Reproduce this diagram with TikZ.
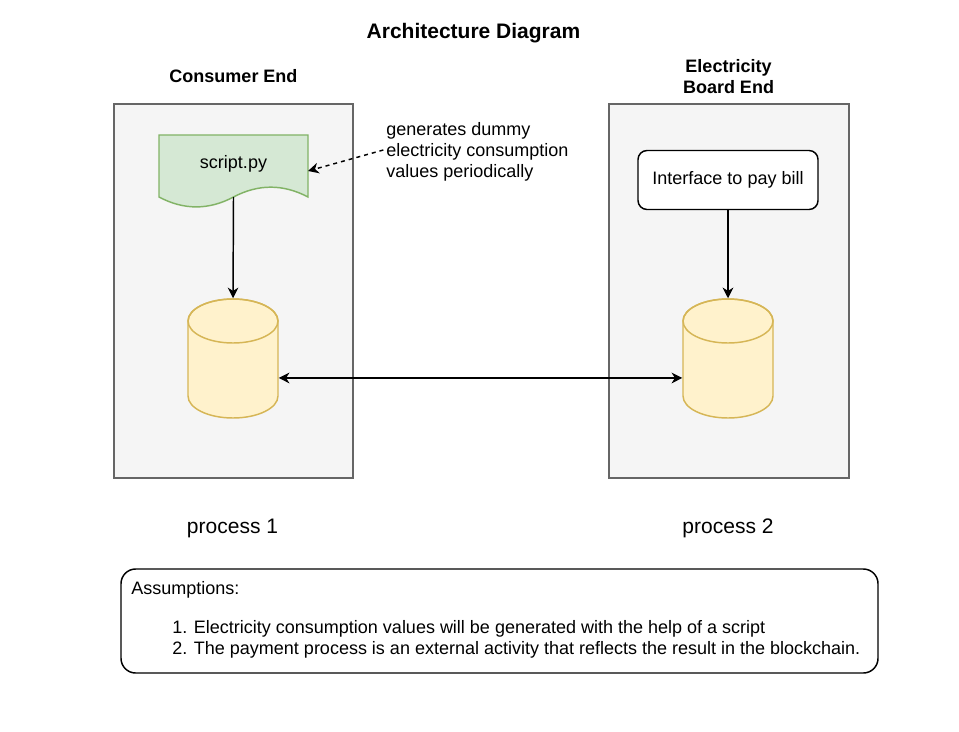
\documentclass[tikz,border=0pt]{standalone}
\usepackage{fontspec}
\setmainfont{Liberation Sans}
\definecolor{panelgray}{HTML}{F5F5F5}
\definecolor{panelline}{HTML}{666666}
\definecolor{docgreen}{HTML}{D5E8D4}
\definecolor{docline}{HTML}{82B366}
\definecolor{dbyellow}{HTML}{FFF2CC}
\definecolor{dbline}{HTML}{D6B656}
\usetikzlibrary{
  shapes.geometric,
  arrows.meta,
  positioning
}

\begin{document}
\begin{tikzpicture}[
  x=0.75pt, y=-0.75pt,
  panel/.style={rectangle, draw=panelline, fill=panelgray, line width=1.1pt, minimum width=179.25pt, minimum height=280.5pt},
  heading/.style={font=\fontsize{13.5}{15.75}\selectfont\bfseries, align=center},
  plain/.style={font=\fontsize{13.5}{15.75}\selectfont, align=left},
  big/.style={font=\fontsize{15.75}{18}\selectfont},
  db/.style={rectangle, minimum width=67.5pt, minimum height=89.25pt, inner sep=0pt, outer sep=0.55pt},
  dbshape/.style={draw=dbline, fill=dbyellow, line width=1.1pt},
  uibox/.style={rectangle, draw=black, fill=white, rounded corners=6.75pt, line width=1.1pt, minimum width=135pt, minimum height=44.25pt, font=\fontsize{13.5}{15.75}\selectfont},
  edge/.style={-{Stealth[length=8pt, width=8pt, inset=2.5pt]}, line width=1.1pt, black},
  biedge/.style={{Stealth[length=8pt, width=8pt, inset=2.5pt]}-{Stealth[length=8pt, width=8pt, inset=2.5pt]}, line width=1.1pt, black},
  noteedge/.style={-{Stealth[length=8pt, width=8pt, inset=2.5pt]}, line width=1.1pt, black, dashed}
]
  \useasboundingbox (0,0) rectangle (959,731);

  % Title
  \node[heading, font=\fontsize{15.75}{18}\selectfont\bfseries] (title) at (473.5,33) {Architecture Diagram};

  % Panels
  \node[panel] (consumer) at (233.5,291) {};
  \node[panel, minimum width=180pt] (board) at (729,291) {};
  \node[heading] (consumerhead) at (233.5,76.5) {Consumer End};
  \node[heading] (boardhead) at (728.5,77) {Electricity\\Board End};

  % Consumer side
  \filldraw[draw=docline, fill=docgreen, line width=1.1pt]
    (159,135) -- (308,135) -- (308,197)
    .. controls (283.2,183.9) and (258.3,183.9) .. (233.5,197)
    .. controls (208.7,210.2) and (183.8,210.2) .. (159,197) -- cycle;
  \node[plain] (script) at (233.5,164) {script.py};
  \coordinate (scriptin) at (308,171);
  \coordinate (scriptout) at (233.5,197);
  \node[db] (dbleft) at (233,358.5) {};

  % Board side
  \node[uibox] (pay) at (728,180) {Interface to pay bill};
  \node[db] (dbright) at (728,358.5) {};

  % Cylinders
  \foreach \cx in {233,728} {
    \filldraw[dbshape] (\cx-45,321) -- (\cx-45,396)
      arc[start angle=180, end angle=360, x radius=33.75pt, y radius=16.5pt]
      -- (\cx+45,321)
      arc[start angle=0, end angle=180, x radius=33.75pt, y radius=16.5pt] -- cycle;
    \draw[dbshape, fill=none] (\cx,321) ellipse[x radius=33.75pt, y radius=16.5pt];
  }

  % Note
  \node[plain, anchor=west, inner sep=0pt] (note) at (386,152) {generates dummy\\electricity consumption\\values periodically};

  % Edges
  \draw[edge] (scriptout) -- (dbleft.north);
  \draw[edge] (pay.south) -- (dbright.north);
  \draw[biedge] ([yshift=-14.6pt]dbleft.east) -- ([yshift=-14.6pt]dbright.west);
  \draw[noteedge] ([xshift=-2pt, yshift=1.5pt]note.west) -- (scriptin);

  % Process labels
  \node[big] (proc1) at (232.5,528) {process 1};
  \node[big] (proc2) at (728,528) {process 2};

  % Assumptions
  \node[rectangle, draw=black, rounded corners=11pt, line width=1.1pt, minimum width=567.75pt, minimum height=78pt] (assume) at (499.5,621) {};
  \node[plain, anchor=north west, inner sep=0pt] (assumetext) at (131,581) {Assumptions:\\[13.5pt]
    \hspace*{30.75pt}1. Electricity consumption values will be generated with the help of a script\\
    \hspace*{30.75pt}2. The payment process is an external activity that reflects the result in the blockchain.};
\end{tikzpicture}
\end{document}
